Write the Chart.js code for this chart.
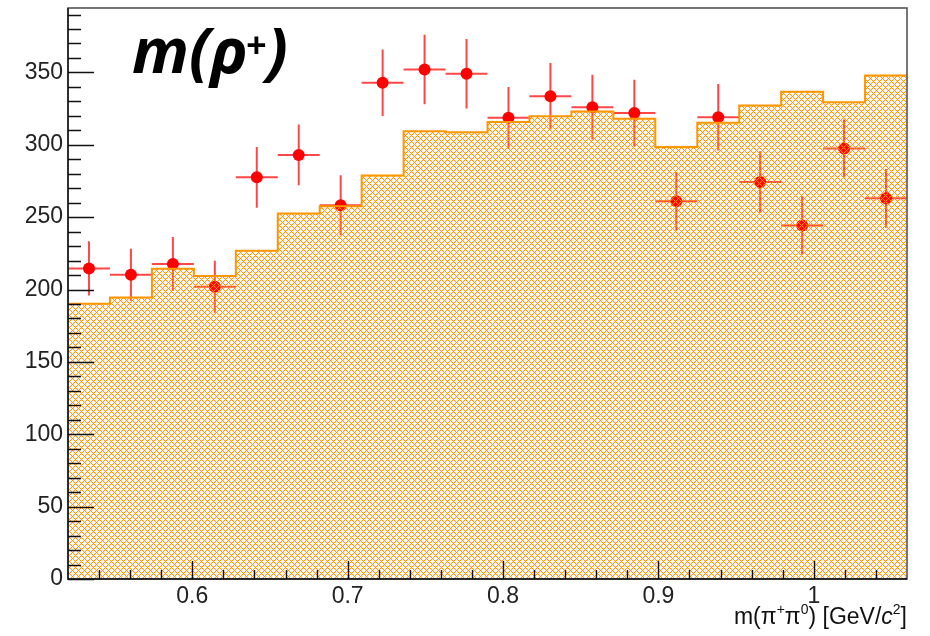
<!DOCTYPE html>
<html><head><meta charset="utf-8">
<script src="https://cdn.jsdelivr.net/npm/chart.js@4.4.1/dist/chart.umd.min.js"></script>
<style>html,body{margin:0;padding:0;background:#fff;overflow:hidden}#wrap{width:930px;height:636px}</style>
</head><body><div id="wrap"><canvas id="c" width="930" height="636"></canvas></div>
<script>
// ---- data ----
const binEdges = [0.520,0.547,0.574,0.601,0.628,0.655,0.682,0.709,0.736,0.763,0.790,0.817,0.844,0.871,0.898,0.925,0.952,0.979,1.006,1.033,1.060];
const binCenters = [0.5335,0.5605,0.5875,0.6145,0.6415,0.6685,0.6955,0.7225,0.7495,0.7765,0.8035,0.8305,0.8575,0.8845,0.9115,0.9385,0.9655,0.9925,1.0195,1.0465];
const mcCounts = [190.2,194.5,214.4,209.3,226.8,252.6,257.5,278.7,309.3,308.7,315.8,319.7,323.0,317.9,298.5,315.2,327.1,336.6,329.4,347.9];
const dataCounts = [214.6,210.2,217.6,201.9,277.5,293.0,258.2,342.8,352.0,349.0,318.6,333.5,326.0,322.0,261.0,319.0,274.3,244.3,297.4,263.0];
const dataErrors = [18.7,18.0,18.7,18.0,21.0,21.0,20.7,23.0,24.0,24.0,21.4,23.0,22.3,23.0,20.2,23.0,21.2,20.1,20.0,20.3];
const xMajorTicks = [0.6,0.7,0.8,0.9,1.0];
const xTickLabels = ['0.6','0.7','0.8','0.9','1'];
const yMajorTicks = [0,50,100,150,200,250,300,350];
const yTickLabels = ['0','50','100','150','200','250','300','350'];
const xMin = 0.52, xMax = 1.06, yMin = 0, yMax = 394.5;

// ---- hatch pattern (crisp 45° cross-hatch) ----
function makeHatch(){
  const p = 6;
  const pc = document.createElement('canvas'); pc.width = p; pc.height = p;
  const g = pc.getContext('2d');
  const img = g.createImageData(p, p);
  for (let y = 0; y < p; y++) for (let x = 0; x < p; x++) {
    const k1 = (x + y) % p, k2 = ((x - y) % p + p) % p;
    const a1 = k1 === 0 ? 0.95 : (k1 === 1 || k1 === p - 1 ? 0.12 : 0);
    const a2 = k2 === 0 ? 0.95 : (k2 === 1 || k2 === p - 1 ? 0.12 : 0);
    const a = Math.min(1, Math.max(a1, a2) + (a1 > 0.5 && a2 > 0.5 ? 0.05 : 0));
    const i = (y * p + x) * 4;
    img.data[i] = 255; img.data[i + 1] = 145; img.data[i + 2] = 0; img.data[i + 3] = Math.round(a * 255);
  }
  g.putImageData(img, 0, 0);
  return document.getElementById('c').getContext('2d').createPattern(pc, 'repeat');
}

const histPoints = binEdges.map((e, i) => ({x: e, y: mcCounts[Math.min(i, mcCounts.length - 1)]}));
const dataPoints = binCenters.map((c, i) => ({x: c, y: dataCounts[i]}));

const errorBars = {
  id: 'errorBars',
  beforeDatasetsDraw(chart) {
    const ctx = chart.ctx, xs = chart.scales.x, ys = chart.scales.y;
    ctx.save();
    ctx.strokeStyle = 'rgba(255,0,0,0.72)'; ctx.lineWidth = 2;
    for (let i = 0; i < dataCounts.length; i++) {
      const xc = xs.getPixelForValue(binCenters[i]);
      const xl = xs.getPixelForValue(binEdges[i]);
      const xr = xs.getPixelForValue(binEdges[i + 1]);
      const yc = ys.getPixelForValue(dataCounts[i]);
      const yt = ys.getPixelForValue(dataCounts[i] + dataErrors[i]);
      const yb = ys.getPixelForValue(dataCounts[i] - dataErrors[i]);
      ctx.beginPath();
      ctx.moveTo(xl, yc); ctx.lineTo(xr, yc);
      ctx.moveTo(xc, yt); ctx.lineTo(xc, yb);
      ctx.stroke();
    }
    ctx.restore();
  }
};

const frameTicks = {
  id: 'frameTicks',
  afterDatasetsDraw(chart) {
    const ctx = chart.ctx, a = chart.chartArea, xs = chart.scales.x, ys = chart.scales.y;
    ctx.save();
    ctx.strokeStyle = '#555'; ctx.lineWidth = 1.6;
    ctx.strokeRect(a.left, a.top, a.right - a.left, a.bottom - a.top);
    ctx.strokeStyle = '#111'; ctx.lineWidth = 1.4;
    ctx.beginPath();
    ctx.moveTo(a.left, a.top); ctx.lineTo(a.left, a.bottom); ctx.lineTo(a.right, a.bottom);
    for (let v = 0; v <= 390; v += 10) {
      const y = Math.round(ys.getPixelForValue(v)) + 0.5;
      const len = (v % 50 === 0) ? 26 : 13;
      ctx.moveTo(a.left, y); ctx.lineTo(a.left + len, y);
    }
    for (let k = 54; k <= 104; k += 2) {
      const x = Math.round(xs.getPixelForValue(k / 100)) + 0.5;
      const len = (k % 10 === 0) ? 18 : 9;
      ctx.moveTo(x, a.bottom); ctx.lineTo(x, a.bottom - len);
    }
    ctx.stroke();
    ctx.restore();
  },
  afterDraw(chart) {
    const ctx = chart.ctx;
    ctx.save();
    ctx.fillStyle = '#000';
    ctx.textBaseline = 'alphabetic';
    let x = 132, y = 73;
    const big = 'italic bold 63px "Open Sans"', sup = 'italic bold 36px "Open Sans"';
    ctx.font = big; ctx.fillText('m(ρ', x, y); x += ctx.measureText('m(ρ').width;
    ctx.font = sup; ctx.fillText('+', x - 2, y - 15); x += ctx.measureText('+').width - 2;
    ctx.font = big; ctx.fillText(')', x, y);
    const parts = [
      ['m(π', '23px "Liberation Sans"', 0],
      ['+', '14px "Liberation Sans"', -10],
      ['π', '23px "Liberation Sans"', 0],
      ['0', '14px "Liberation Sans"', -10],
      [') [GeV/', '23px "Liberation Sans"', 0],
      ['c', 'italic 23px "Liberation Sans"', 0],
      ['2', '14px "Liberation Sans"', -10],
      [']', '23px "Liberation Sans"', 0]
    ];
    let w = 0;
    for (const p of parts) { ctx.font = p[1]; w += ctx.measureText(p[0]).width; }
    let tx = 907 - w; const ty = 624;
    ctx.fillStyle = '#111';
    for (const p of parts) { ctx.font = p[1]; ctx.fillText(p[0], tx, ty + p[2]); tx += ctx.measureText(p[0]).width; }
    ctx.restore();
  }
};

new Chart(document.getElementById('c'), {
  type: 'line',
  data: {
    datasets: [
      { label: 'MC', data: histPoints, stepped: 'before', fill: 'origin',
        backgroundColor: makeHatch(), borderColor: 'rgb(255,150,0)', borderWidth: 2,
        pointRadius: 0, order: 0 },
      { type: 'scatter', label: 'Data', data: dataPoints, backgroundColor: '#ff0000',
        borderColor: '#ff0000', pointRadius: 6, borderWidth: 0, showLine: false, order: 1 }
    ]
  },
  options: {
    responsive: false, animation: false, devicePixelRatio: 1,
    layout: { padding: { top: 8, right: 23, left: 0, bottom: 0 } },
    plugins: { legend: { display: false }, tooltip: { enabled: false } },
    scales: {
      x: { type: 'linear', min: xMin, max: xMax,
        grid: { display: false, drawTicks: false }, border: { display: false },
        afterBuildTicks: s => { s.ticks = xMajorTicks.map(v => ({ value: v })); },
        afterFit: s => { s.height = 57; s.paddingLeft = 0; s.paddingRight = 0; },
        ticks: { callback: v => xTickLabels[xMajorTicks.indexOf(v)], autoSkip: false, maxRotation: 0,
          font: { family: 'Liberation Sans', size: 23 }, color: '#222', padding: 4 } },
      y: { type: 'linear', min: yMin, max: yMax,
        grid: { display: false, drawTicks: false }, border: { display: false },
        afterBuildTicks: s => { s.ticks = yMajorTicks.map(v => ({ value: v })); },
        afterFit: s => { s.width = 68; s.paddingTop = 0; s.paddingBottom = 0; },
        ticks: { callback: v => yTickLabels[yMajorTicks.indexOf(v)], autoSkip: false,
          font: { family: 'Liberation Sans', size: 23 }, color: '#222', padding: 5 } }
    }
  },
  plugins: [errorBars, frameTicks]
});
</script></body></html>
